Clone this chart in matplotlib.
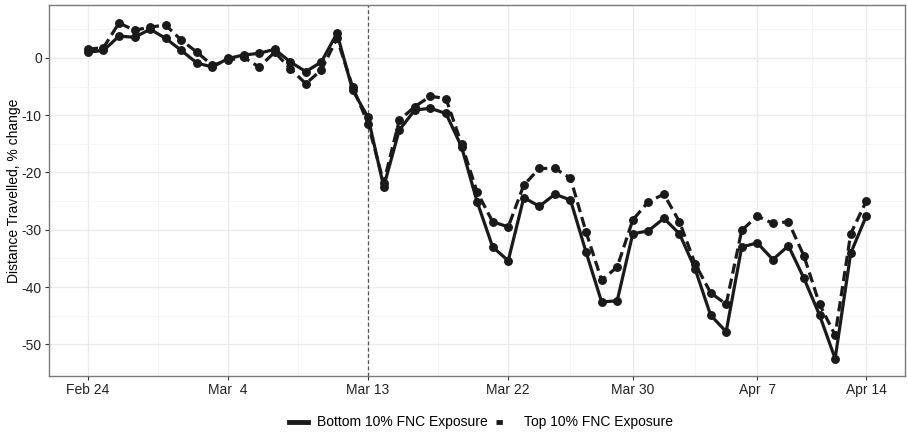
import numpy as np
import pandas as pd
import matplotlib
matplotlib.use('Agg')
import matplotlib.pyplot as plt
import matplotlib.dates as mdates
from matplotlib.lines import Line2D

plt.rcParams['font.family'] = ['Liberation Sans', 'DejaVu Sans']
plt.rcParams['axes.unicode_minus'] = False

dates = pd.date_range('2020-02-24', '2020-04-14', freq='D')

bottom10 = [1.0, 1.3, 3.8, 3.6, 5.0, 3.4, 1.3, -0.9, -1.6, -0.1,
            0.5, 0.8, 1.5, -0.7, -2.4, -0.7, 4.3, -5.6, -10.4, -22.5,
            -12.6, -9.1, -8.8, -9.7, -15.5, -25.1, -33.0, -35.4, -24.4, -25.9,
            -23.8, -24.8, -33.9, -42.6, -42.4, -30.7, -30.2, -28.0, -30.7, -36.8,
            -44.9, -47.8, -33.0, -32.3, -35.2, -32.8, -38.5, -44.9, -52.5, -34.1,
            -27.6]
top10 = [1.5, 1.8, 6.1, 4.8, 5.4, 5.7, 3.1, 1.0, -1.3, -0.4,
         0.1, -1.6, 1.0, -1.9, -4.5, -2.1, 3.4, -5.0, -11.5, -21.8,
         -10.9, -8.5, -6.7, -7.1, -15.0, -23.4, -28.6, -29.5, -22.2, -19.3,
         -19.3, -21.0, -30.4, -38.8, -36.5, -28.3, -25.1, -23.8, -28.6, -35.9,
         -41.0, -43.0, -30.1, -27.6, -28.9, -28.6, -34.6, -43.0, -48.4, -30.7,
         -25.0]

tick_dates = pd.to_datetime(['2020-02-24', '2020-03-04', '2020-03-13', '2020-03-22',
                             '2020-03-30', '2020-04-07', '2020-04-14'])
tick_labels = ['Feb 24', 'Mar  4', 'Mar 13', 'Mar 22', 'Mar 30', 'Apr  7', 'Apr 14']
yticks = [0, -10, -20, -30, -40, -50]
event_date = pd.Timestamp('2020-03-13')

LINE = '#1a1a1a'
fig = plt.figure(figsize=(9.07, 4.32), dpi=100)
ax = fig.add_axes([0.054, 0.13, 0.944, 0.858])

ax.plot(dates, bottom10, color=LINE, lw=2.3, marker='o', ms=5.4,
        solid_capstyle='round', zorder=4)
ax.plot(dates, top10, color=LINE, lw=2.3, marker='o', ms=5.4,
        linestyle=(0, (3.2, 1.6)), zorder=3)
ax.axvline(event_date, color='#555555', lw=0.9, linestyle=(0, (3, 2)), zorder=2)

x0 = mdates.date2num(dates[0])
x1 = mdates.date2num(dates[-1])
pad = (x1 - x0) * 0.05
ax.set_xlim(x0 - pad, x1 + pad)
ax.set_ylim(-55.5, 9.2)

tnum = mdates.date2num(tick_dates)
ax.set_xticks(tnum)
ax.set_xticklabels(tick_labels)
ax.set_xticks((tnum[:-1] + tnum[1:]) / 2, minor=True)
ax.set_yticks(yticks)
ax.set_yticks([5, -5, -15, -25, -35, -45, -55], minor=True)

ax.grid(which='major', color='#ebebeb', lw=1.0)
ax.grid(which='minor', color='#f4f4f4', lw=0.6)
ax.set_axisbelow(True)
ax.tick_params(which='major', length=3, color='#333333', labelsize=10,
               labelcolor='#222222', width=0.8, pad=2.2)
ax.tick_params(which='minor', length=0)
for s in ax.spines.values():
    s.set_color('#7a7a7a')
    s.set_linewidth(1.0)

ax.set_ylabel('Distance Travelled, % change', fontsize=10)
ax.yaxis.set_label_coords(-0.033, 0.5)

handles = [Line2D([], [], color=LINE, lw=3.5),
           Line2D([], [], color=LINE, lw=3.5, linestyle=(0, (1.3, 10)))]
fig.legend(handles, ['Bottom 10% FNC Exposure', 'Top 10% FNC Exposure'],
           loc='center', bbox_to_anchor=(0.53, 0.022), ncol=2, frameon=False,
           fontsize=10, handlelength=1.4, columnspacing=0.6, handletextpad=0.6)

fig.savefig('out.png', dpi=100)
